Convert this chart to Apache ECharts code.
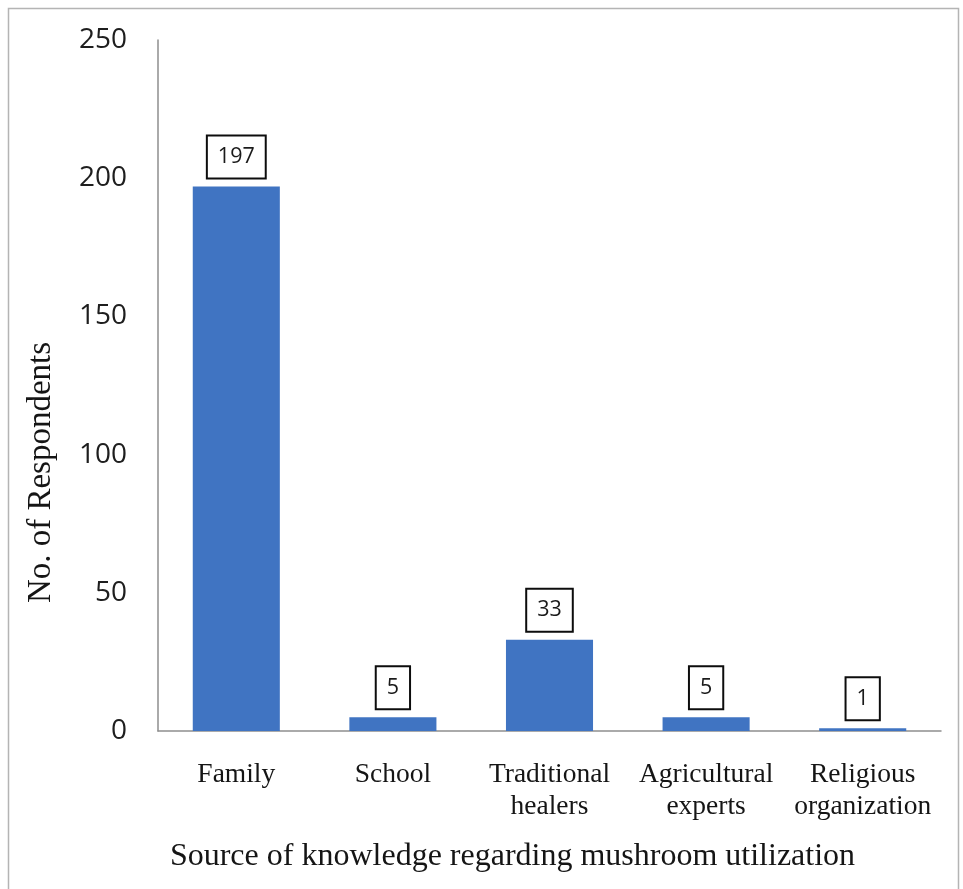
<!DOCTYPE html>
<html>
<head>
<meta charset="utf-8">
<style>
  html, body { margin: 0; padding: 0; background: #ffffff; }
  #chart { width: 963px; height: 889px; }
</style>
<script src="https://cdn.jsdelivr.net/npm/echarts@6/dist/echarts.min.js"></script>
</head>
<body>
<div id="chart"></div>
<script>
// Sources of knowledge about mushroom use and respondent counts
const categories = ['Family', 'School', 'Traditional\nhealers', 'Agricultural\nexperts', 'Religious\norganization'];
const respondents = [197, 5, 33, 5, 1];
const yTicks = { min: 0, max: 250, interval: 50 };

const serif = '"Liberation Serif", "Times New Roman", serif';
const sans = '"Open Sans", "Liberation Sans", sans-serif';

const chart = echarts.init(document.getElementById('chart'), null, { renderer: 'canvas' });

chart.setOption({
  backgroundColor: '#ffffff',
  animation: false,
  graphic: [{
    type: 'rect',
    shape: { x: 8.5, y: 8.5, width: 950, height: 900 },
    style: { fill: 'none', stroke: '#b4b4b4', lineWidth: 1.5 },
    silent: true
  }],
  grid: { left: 158, right: 22, top: 40, bottom: 158, containLabel: false },
  xAxis: {
    type: 'category',
    data: categories,
    name: 'Source of knowledge regarding mushroom utilization',
    nameLocation: 'middle',
    nameGap: 110,
    nameTextStyle: { fontFamily: serif, fontSize: 32, color: '#151515', padding: [0, 74, 0, 0] },
    axisLine: { show: true, lineStyle: { color: '#8e8e8e', width: 1.5 } },
    axisTick: { show: false },
    axisLabel: { fontFamily: serif, fontSize: 27.5, color: '#151515', lineHeight: 32, margin: 28, interval: 0 }
  },
  yAxis: {
    type: 'value',
    min: yTicks.min,
    max: yTicks.max,
    interval: yTicks.interval,
    name: 'No. of Respondents',
    nameLocation: 'middle',
    nameGap: 100,
    nameTextStyle: { fontFamily: serif, fontSize: 33, color: '#151515', padding: [0, 174, 0, 0] },
    axisLine: { show: true, lineStyle: { color: '#8e8e8e', width: 1.5 } },
    axisTick: { show: false },
    splitLine: { show: false },
    axisLabel: { fontFamily: sans, fontSize: 28, color: '#1e1e1e', margin: 31 }
  },
  series: [{
    type: 'bar',
    data: respondents,
    barWidth: '55.6%',
    itemStyle: { color: '#4074c2' },
    label: {
      show: true,
      position: 'top',
      distance: 9,
      fontFamily: sans,
      fontSize: 21.5,
      lineHeight: 23,
      color: '#1a1a1a',
      backgroundColor: '#ffffff',
      borderColor: '#0d0d0d',
      borderWidth: 2,
      padding: [9, 10, 9, 10]
    }
  }]
});
</script>
</body>
</html>
